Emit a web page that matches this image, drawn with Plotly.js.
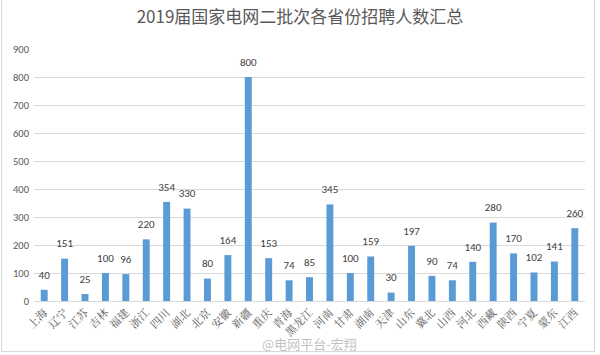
<!DOCTYPE html>
<html><head><meta charset="utf-8">
<script src="https://cdn.plot.ly/plotly-3.0.1.min.js"></script>
<style>html,body{margin:0;padding:0;background:#fff}#w{position:relative;width:600px;height:355px}#c{width:600px;height:355px}
#f{position:absolute;left:1px;top:-2px;width:592px;height:352px;border:1px solid #D9D9D9;pointer-events:none}</style>
</head><body><div id="w"><div id="c"></div><div id="f"></div></div>
<script>
const provinces = ["上海","辽宁","江苏","吉林","福建","浙江","四川","湖北","北京","安徽","新疆","重庆","青海","黑龙江","河南","甘肃","湖南","天津","山东","冀北","山西","河北","西藏","陕西","宁夏","蒙东","江西"];
const hires = [40,151,25,100,96,220,354,330,80,164,800,153,74,85,345,100,159,30,197,90,74,140,280,170,102,141,260];
const yTicks = [0,100,200,300,400,500,600,700,800,900];

Plotly.newPlot('c', [{
  type: 'bar',
  x: provinces,
  y: hires,
  marker: {color: '#5B9BD5'},
  width: 0.34,
  hoverinfo: 'x+y'
}, {
  type: 'scatter',
  mode: 'markers+text',
  x: provinces,
  y: hires,
  marker: {size: 12, color: 'rgba(0,0,0,0)'},
  text: hires.map(String),
  textposition: 'top center',
  cliponaxis: false,
  textfont: {family: 'Calibri, Carlito, "Liberation Sans", sans-serif', size: 11, color: '#404040'},
  hoverinfo: 'skip'
}], {
  width: 600, height: 355,
  margin: {l: 34, r: 15, t: 49, b: 54, pad: 0},
  paper_bgcolor: '#fff', plot_bgcolor: '#fff',
  title: {text: '2019届国家电网二批次各省份招聘人数汇总', x: 0.5, xanchor: 'center', y: 0.952, yanchor: 'middle',
    font: {family: '"Noto Sans CJK SC", sans-serif', size: 17, color: '#595959'}},
  showlegend: false,
  xaxis: {type: 'category', range: [-0.5, provinces.length - 0.5], tickangle: -45, showgrid: false, zeroline: false, ticks: '',
    showline: true, linecolor: '#D9D9D9',
    tickfont: {family: '"Noto Serif CJK SC", "Noto Sans CJK SC", serif', size: 11, color: '#595959'}},
  yaxis: {range: [0, 900], tickvals: yTicks, showgrid: true, gridcolor: '#D9D9D9', zeroline: false,
    showline: false, ticks: '', ticklabelstandoff: 4,
    tickfont: {family: 'Calibri, Carlito, "Liberation Sans", sans-serif', size: 10.5, color: '#595959'}},
  annotations: [{text: '@电网平台-宏翔', xref: 'paper', yref: 'paper', x: 0.5, y: -0.17, xanchor: 'center', yanchor: 'middle',
    showarrow: false, font: {family: '"Noto Sans CJK SC", sans-serif', size: 13, color: 'rgba(150,150,150,0.6)'}}]
}, {displayModeBar: false, staticPlot: true});
</script></body></html>
